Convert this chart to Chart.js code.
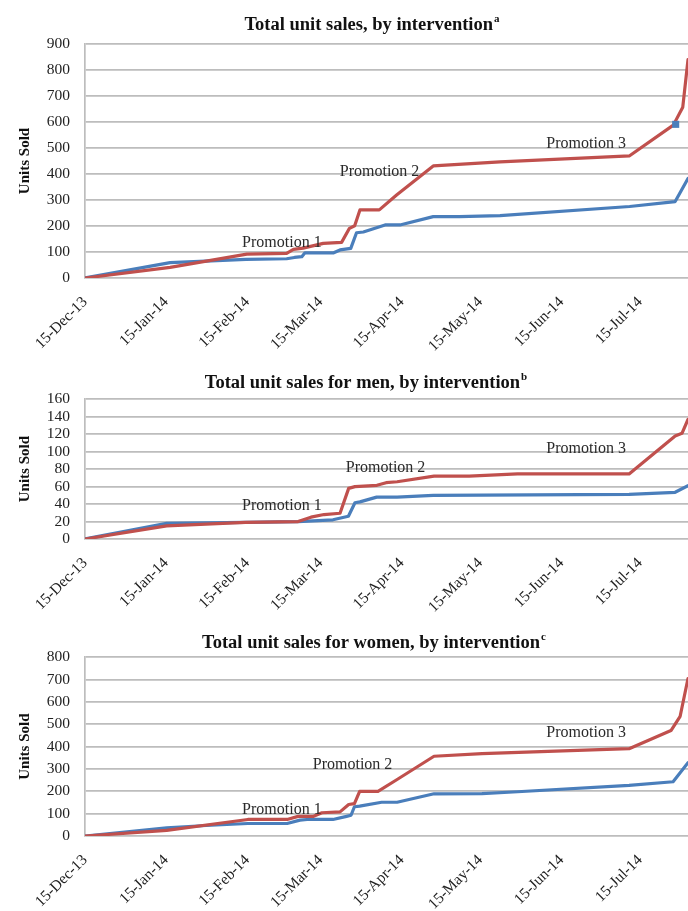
<!DOCTYPE html>
<html>
<head>
<meta charset="utf-8">
<script src="https://cdn.jsdelivr.net/npm/chart.js@4/dist/chart.umd.min.js"></script>
<style>
  html, body { margin: 0; padding: 0; background: #fff; }
  .panel { position: absolute; left: 0; width: 688px; }
  canvas { display: block; }
</style>
</head>
<body>
<div class="panel" style="top:0px"><canvas id="chartAll" width="688" height="355"></canvas></div>
<div class="panel" style="top:355px"><canvas id="chartMen" width="688" height="260"></canvas></div>
<div class="panel" style="top:615px"><canvas id="chartWomen" width="688" height="296"></canvas></div>
<script>
// Day offsets are counted from 15-Dec-13.
const tickDays = [0, 31, 62, 90, 121, 151, 182, 212];
const tickLabels = ['15-Dec-13', '15-Jan-14', '15-Feb-14', '15-Mar-14', '15-Apr-14', '15-May-14', '15-Jun-14', '15-Jul-14'];
const lastDay = 230.3;

// Total unit sales
const allRedDays   = [0, 32.5, 61.8, 77, 79.6, 83.3, 91, 98, 101, 103, 105, 112.4, 119, 133, 158.5, 208, 224.7, 228.3, 230.3];
const allRedUnits  = [0, 41, 92, 95, 110, 115, 133, 137, 191, 201, 262, 262, 319, 431, 447, 470, 588, 657, 840];
const allBlueDays  = [0, 32.5, 46, 61.5, 77, 80, 82.8, 84, 95, 97.4, 101.5, 103.7, 106.3, 114.6, 120.3, 133, 143, 158.5, 208, 225.4, 230.3];
const allBlueUnits = [0, 59, 65, 72, 74, 79, 82, 97, 97, 108, 114, 174, 177, 204, 204, 236, 236, 240, 275, 294, 383];
const allMarkerDay = [225.6];
const allMarkerUnits = [591];
const allPromoDays  = [75.2, 112.5, 191.4];
const allPromoUnits = [135, 410, 515];

// Unit sales for men
const menRedDays   = [0, 31.2, 61.3, 81.4, 86.3, 91.3, 97.4, 100.7, 103.1, 111.5, 115, 119.2, 133.3, 146.7, 165.2, 207.8, 225.4, 228, 230.3];
const menRedUnits  = [0, 15, 19, 20, 25, 28, 29.5, 58, 60, 61.5, 64.5, 65.6, 72, 72, 74.5, 74.5, 118, 121, 137];
const menBlueDays  = [0, 31.2, 61.3, 81.4, 94.7, 100.6, 103.1, 105, 111.4, 119.2, 133, 207.8, 225.4, 230.3];
const menBlueUnits = [0, 18, 19, 20, 22, 26, 41.5, 42.5, 48, 48, 50, 51, 53.5, 61];
const menPromoDays  = [75.2, 114.8, 191.4];
const menPromoUnits = [37.8, 81.3, 103];

// Unit sales for women
const womenRedDays   = [0, 31.2, 62.2, 77.2, 81.4, 87.3, 90.5, 97.4, 100.7, 102.9, 104.9, 111.9, 119.2, 133.3, 151.6, 207.8, 223.8, 227.3, 230.3];
const womenRedUnits  = [0, 25, 74, 74, 88, 88, 104, 108, 141, 145, 200, 200, 253, 357, 369, 391, 472, 536, 705];
const womenBlueDays  = [0, 31.2, 46.2, 62.2, 77.2, 82.1, 84.8, 94.7, 99.9, 101.6, 102.9, 104.9, 113.3, 119.2, 133.3, 151.6, 165.2, 207.8, 224.6, 230.3];
const womenBlueUnits = [0, 37, 47, 56, 56, 71, 74, 74, 88, 93, 131, 134, 151, 151, 189, 190, 198, 227, 243, 328];
const womenPromoDays  = [75.2, 102.2, 191.4];
const womenPromoUnits = [115.5, 317, 463];

const promoNames = ['Promotion 1', 'Promotion 2', 'Promotion 3'];

const SERIF = '"Liberation Serif", "Times New Roman", serif';
const RED = '#C0504D';
const BLUE = '#4A7EBB';
const GRID = '#bdbdbd';

function points(days, units) {
  return days.map((d, i) => ({ x: d, y: units[i] }));
}

// Title with superscript note letter, plus the promotion annotations
const annotate = {
  id: 'annotate',
  afterDatasetsDraw(chart, args, opts) {
    const ctx = chart.ctx;
    ctx.save();
    ctx.fillStyle = '#111';
    ctx.textBaseline = 'middle';
    ctx.textAlign = 'left';
    const mainFont = 'bold 18.5px ' + SERIF;
    const supFont = 'bold 11px ' + SERIF;
    ctx.font = mainFont;
    const w = ctx.measureText(opts.title).width;
    ctx.font = supFont;
    const ws = ctx.measureText(opts.note).width;
    const x0 = opts.titleX - (w + ws + 1) / 2;
    ctx.font = mainFont;
    ctx.fillText(opts.title, x0, opts.titleY);
    ctx.font = supFont;
    ctx.fillText(opts.note, x0 + w + 1, opts.titleY - 6);

    const xs = chart.scales.x, ys = chart.scales.y;
    ctx.font = '16px ' + SERIF;
    ctx.textAlign = 'center';
    ctx.fillStyle = '#2a2a2a';
    opts.days.forEach((d, i) => {
      ctx.fillText(promoNames[i], xs.getPixelForValue(d), ys.getPixelForValue(opts.units[i]));
    });
    ctx.restore();
  }
};

function makeChart(id, cfg) {
  const datasets = [];
  if (cfg.marker) {
    datasets.push({
      label: 'Marker',
      data: points(cfg.marker[0], cfg.marker[1]),
      showLine: false,
      pointStyle: 'rect',
      pointRadius: 5,
      backgroundColor: BLUE,
      borderColor: BLUE,
      borderWidth: 0
    });
  }
  datasets.push({
    label: 'Series 2',
    data: points(cfg.red[0], cfg.red[1]),
    borderColor: RED,
    borderWidth: 3.2,
    pointRadius: 0,
    tension: 0,
    borderJoinStyle: 'round',
    borderCapStyle: 'round'
  });
  datasets.push({
    label: 'Series 1',
    data: points(cfg.blue[0], cfg.blue[1]),
    borderColor: BLUE,
    borderWidth: 3.2,
    pointRadius: 0,
    tension: 0,
    borderJoinStyle: 'round',
    borderCapStyle: 'round'
  });

  return new Chart(document.getElementById(id), {
    type: 'line',
    data: { datasets },
    plugins: [annotate],
    options: {
      responsive: false,
      animation: false,
      events: [],
      layout: { autoPadding: false, padding: { top: cfg.top, left: 0, right: 0, bottom: 0 } },
      plugins: {
        legend: { display: false },
        tooltip: { enabled: false },
        annotate: {
          title: cfg.title, note: cfg.note, titleX: cfg.titleX, titleY: cfg.titleY,
          days: cfg.promo[0], units: cfg.promo[1]
        }
      },
      scales: {
        x: {
          type: 'linear',
          min: 0,
          max: lastDay,
          grid: { display: false, drawTicks: false },
          border: { display: false },
          afterBuildTicks: s => { s.ticks = tickDays.map(v => ({ value: v })); },
          ticks: {
            autoSkip: false,
            minRotation: 45,
            maxRotation: 45,
            padding: 15,
            color: '#222',
            font: { family: SERIF, size: 15.5 },
            callback: v => tickLabels[tickDays.indexOf(v)]
          },
          afterFit: s => { s.height = cfg.xHeight; s.paddingLeft = 0; s.paddingRight = 0; }
        },
        y: {
          min: 0,
          max: cfg.yMax,
          ticks: {
            stepSize: cfg.yStep,
            autoSkip: false,
            padding: 15,
            color: '#222',
            font: { family: SERIF, size: 15.5 }
          },
          grid: { color: GRID, lineWidth: 1.7, drawTicks: false },
          border: { display: true, color: GRID, width: 1.7 },
          title: {
            display: true,
            text: 'Units Sold',
            color: '#111',
            font: { family: SERIF, size: 15, weight: 'bold' },
            padding: { top: 16, bottom: 0 }
          },
          afterFit: s => { s.width = 85; s.paddingTop = 0; s.paddingBottom = 0; }
        }
      }
    }
  });
}

makeChart('chartAll', {
  title: 'Total unit sales, by intervention', note: 'a', titleX: 372, titleY: 25,
  top: 44, xHeight: 77, yMax: 900, yStep: 100,
  red: [allRedDays, allRedUnits], blue: [allBlueDays, allBlueUnits],
  marker: [allMarkerDay, allMarkerUnits],
  promo: [allPromoDays, allPromoUnits]
});

makeChart('chartMen', {
  title: 'Total unit sales for men, by intervention', note: 'b', titleX: 366, titleY: 28,
  top: 44.3, xHeight: 76, yMax: 160, yStep: 20,
  red: [menRedDays, menRedUnits], blue: [menBlueDays, menBlueUnits],
  promo: [menPromoDays, menPromoUnits]
});

makeChart('chartWomen', {
  title: 'Total unit sales for women, by intervention', note: 'c', titleX: 374, titleY: 28,
  top: 42.3, xHeight: 75, yMax: 800, yStep: 100,
  red: [womenRedDays, womenRedUnits], blue: [womenBlueDays, womenBlueUnits],
  promo: [womenPromoDays, womenPromoUnits]
});
</script>
</body>
</html>
